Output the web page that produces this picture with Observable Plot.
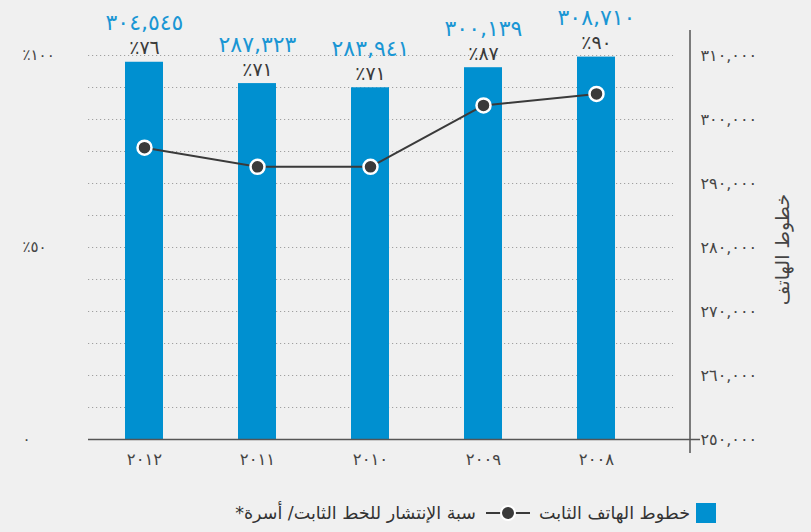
<!DOCTYPE html>
<html lang="ar">
<head>
<meta charset="utf-8">
<script src="https://cdn.jsdelivr.net/npm/d3@7"></script>
<script src="https://cdn.jsdelivr.net/npm/@observablehq/plot@0.6"></script>
<style>
  html, body { margin: 0; padding: 0; background: #f0f0f0; }
  body { width: 811px; height: 532px; overflow: hidden; font-family: "DejaVu Sans", sans-serif; }
  #legend { display: flex; flex-direction: row; direction: rtl; align-items: center; height: 47px; padding-right: 95px; padding-top: 8px; box-sizing: border-box; font-size: 17.5px; color: #333; }
  #legend .item { display: flex; align-items: center; direction: rtl; }
  #legend .sw { width: 20px; height: 20px; background: #0090d0; margin-left: 6px; }
</style>
</head>
<body>
<div id="chart"></div>
<div id="legend"></div>
<script>
const years = ["2012", "2011", "2010", "2009", "2008"];
const fixedLines = [304545, 287323, 283941, 300139, 308710];
const penetration = [76, 71, 71, 87, 90];
const rightTickLabels = [250000, 260000, 270000, 280000, 290000, 300000, 310000];
const leftTickLabels = [0, 50, 100];
const yMax = 310000;
const yLabel = "خطوط الهاتف";
const legendBars = "خطوط الهاتف الثابت";
const legendLine = "سبة الإنتشار للخط الثابت/ أسرة*";

const data = years.map((year, i) => ({year, lines: fixedLines[i], pct: penetration[i]}));
const ar = s => String(s).replace(/[0-9]/g, d => "٠١٢٣٤٥٦٧٨٩"[d]);
const fmt = d3.format(",");
const rightPos = rightTickLabels.map((_, i) => i * yMax / (rightTickLabels.length - 1));
const leftPos = leftTickLabels.map(v => v / 100 * yMax);
const gridPos = d3.range(1, 13).map(i => i * yMax / 12);

const W = 811, H = 485, mT = 55, mB = 46, mL = 88, mR = 121;

const plot = Plot.plot({
  width: W, height: H,
  marginTop: mT, marginBottom: mB, marginLeft: mL, marginRight: mR,
  style: {background: "transparent", fontFamily: "DejaVu Sans, sans-serif", fontSize: "16px", color: "#444"},
  x: {domain: years, range: [85, 654], paddingInner: 0.667, paddingOuter: 0.333, axis: null},
  y: {domain: [0, yMax], axis: null},
  marks: [
    Plot.ruleY(gridPos, {stroke: "#a0a0a0", strokeDasharray: "1.2,2.8", insetRight: 17}),
    Plot.barY(data, {x: "year", y: "lines", fill: "#0090d0"}),
    Plot.ruleY([0], {stroke: "#555", strokeWidth: 1.5, insetRight: -10}),
    Plot.axisX({tickSize: 0, tickPadding: 14, tickFormat: ar, fontSize: 16.5, fill: "#444", label: null}),
    Plot.text(leftPos, {y: d => d, frameAnchor: "left", dx: -66, textAnchor: "start", fontSize: 15, fill: "#444",
      text: (d, i) => leftTickLabels[i] === 0 ? ar(0) : "٪" + ar(leftTickLabels[i])}),
    Plot.text(rightPos, {y: d => d, frameAnchor: "right", dx: 10, textAnchor: "start", fontSize: 16, fill: "#444",
      text: (d, i) => ar(fmt(rightTickLabels[i]))}),
    Plot.text([yLabel], {text: d => d, frameAnchor: "right", dx: 92, dy: 2, rotate: -90, textAnchor: "middle", fontSize: 19, fill: "#444"}),
    Plot.line(data, {x: "year", y: d => d.pct / 100 * yMax, stroke: "#3a3a3a", strokeWidth: 2}),
    Plot.dot(data, {x: "year", y: d => d.pct / 100 * yMax, r: 7, fill: "#3a3a3a", stroke: "white", strokeWidth: 2.5}),
    Plot.text(data, {x: "year", y: "lines", dy: -14, text: d => "٪" + ar(d.pct), fontSize: 19, fill: "#3a3a3a"}),
    Plot.text(data, {x: "year", y: "lines", dy: -39, text: d => ar(fmt(d.lines)), fontSize: 22, fill: "#1a96d4"})
  ]
});

d3.select(plot).append("line")
  .attr("x1", W - mR).attr("x2", W - mR)
  .attr("y1", mT - 25).attr("y2", H - mB + 14)
  .attr("stroke", "#555").attr("stroke-width", 1.5);

document.getElementById("chart").appendChild(plot);

const legend = document.getElementById("legend");
legend.innerHTML = `
  <div class="item"><div class="sw"></div><span>${legendBars}</span></div>
  <div class="item" style="margin-right:9px"><svg width="44" height="20" style="margin-left:10px"><line x1="0" x2="44" y1="10" y2="10" stroke="#3a3a3a" stroke-width="2"/><circle cx="22" cy="10" r="7" fill="#3a3a3a" stroke="white" stroke-width="2"/></svg><span>${legendLine}</span></div>`;
</script>
</body>
</html>
